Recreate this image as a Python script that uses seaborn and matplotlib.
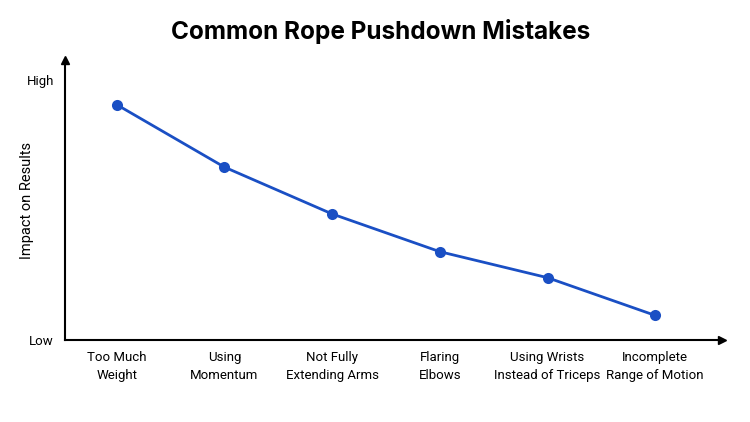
import matplotlib
matplotlib.use("Agg")
import matplotlib.pyplot as plt
import seaborn as sns
import pandas as pd

mistakes = ["Too Much\nWeight", "Using\nMomentum", "Not Fully\nExtending Arms",
            "Flaring\nElbows", "Using Wrists\nInstead of Triceps", "Incomplete\nRange of Motion"]
impact = [9.05, 6.65, 4.85, 3.4, 2.4, 0.95]
level_ticks = [0, 10]
level_labels = ["Low", "High"]

df = pd.DataFrame({"pos": range(len(mistakes)), "impact": impact})

sns.set_style("white")
plt.rcParams["font.family"] = ["Roboto", "DejaVu Sans"]
plt.rcParams["text.color"] = "black"
plt.rcParams["axes.labelcolor"] = "black"
plt.rcParams["xtick.color"] = "black"
plt.rcParams["ytick.color"] = "black"

fig = plt.figure(figsize=(7.5, 4.22), dpi=100)
ax = fig.add_axes([0.0867, 0.194, 0.876, 0.664])

sns.lineplot(data=df, x="pos", y="impact", color="#1a4fc4", linewidth=2,
             marker="o", markersize=8, markeredgewidth=0, ax=ax)

ax.set_xlim(-0.48, 5.62)
ax.set_ylim(0, 10.77)
ax.set_xticks(range(len(mistakes)))
ax.set_xticklabels(mistakes, fontsize=9.5, linespacing=1.45)
ax.set_yticks(level_ticks)
ax.set_yticklabels(level_labels, fontsize=9.5)
ax.tick_params(length=0, pad=8)
ax.set_xlabel("")
ax.set_ylabel("Impact on Results", fontsize=10.5)
ax.yaxis.set_label_coords(-0.047, 0.5)

sns.despine(ax=ax)
for s in ["left", "bottom"]:
    ax.spines[s].set_color("black")
    ax.spines[s].set_linewidth(1.5)
ax.plot(1, 0, ">k", markersize=6, transform=ax.transAxes, clip_on=False)
ax.plot(0, 1, "^k", markersize=6, transform=ax.transAxes, clip_on=False)

fig.suptitle("Common Rope Pushdown Mistakes", fontsize=17.5, fontweight="bold",
             family=["Inter", "DejaVu Sans"], x=0.508, y=0.955)

fig.savefig("out.png", dpi=100)
